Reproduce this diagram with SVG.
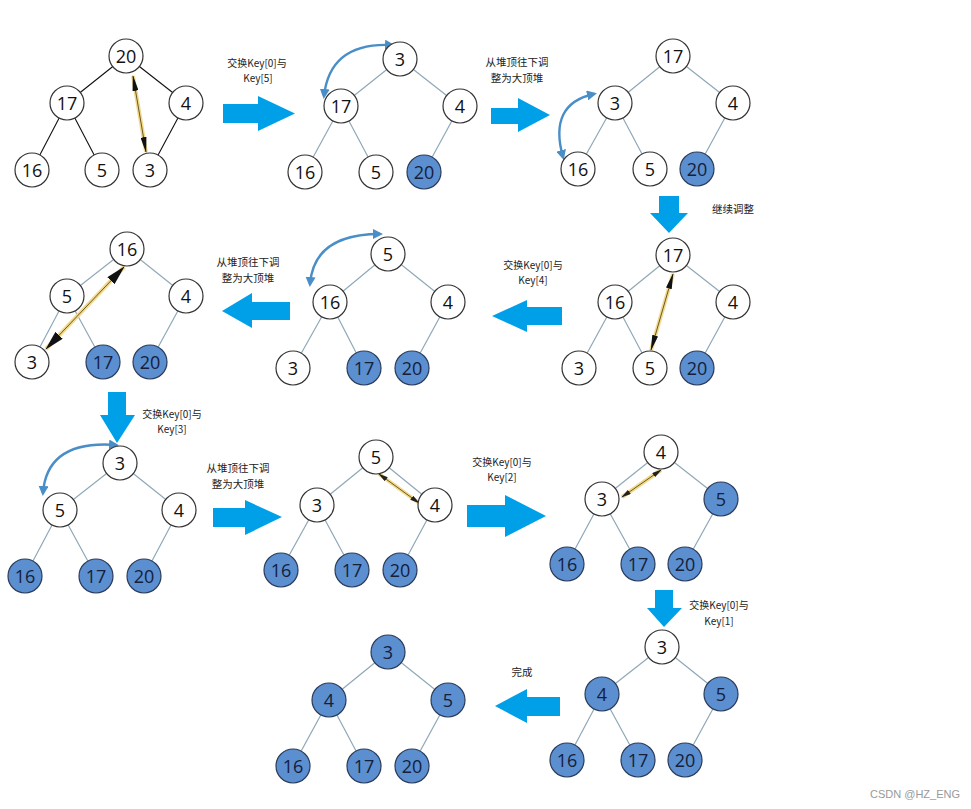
<svg xmlns="http://www.w3.org/2000/svg" width="971" height="809" viewBox="0 0 971 809">
<style>
.w{fill:#fff;stroke:#333;stroke-width:1.2}
.f{fill:#5b8fd0;stroke:#2b3b5a;stroke-width:1.2}
.n{font-family:"Open Sans","Liberation Sans",sans-serif;font-size:18px;text-anchor:middle;fill:#111}
.nf{font-family:"Open Sans","Liberation Sans",sans-serif;font-size:18px;text-anchor:middle;fill:#15203a}
.e{stroke:#8fa8b8;stroke-width:1.2;fill:none}
.eb{stroke:#111;stroke-width:1.1;fill:none}
.ba{fill:#00a0e9}
.lb{font-family:"Noto Sans CJK SC","Liberation Sans",sans-serif;font-size:10.5px;text-anchor:middle;fill:#222}
.ls{font-family:"Noto Sans CJK SC","Liberation Sans",sans-serif;font-size:10px;text-anchor:middle;fill:#222}
.cv{stroke:#4a8ec8;stroke-width:2.4;fill:none;marker-start:url(#ch);marker-end:url(#ch)}
.yg{stroke:#f2d98a;stroke-width:4;fill:none}
.yl{stroke:#6b5a2a;stroke-width:1;fill:none;marker-start:url(#yh);marker-end:url(#yh)}
.yL{stroke:#6b5a2a;stroke-width:1;fill:none;marker-start:url(#yH);marker-end:url(#yH)}
.ys{stroke:#6b5a2a;stroke-width:1;fill:none;marker-start:url(#ys);marker-end:url(#ys)}
</style>
<defs>
<marker id="ch" viewBox="0 0 10 10" refX="7" refY="5" markerWidth="10" markerHeight="10" markerUnits="userSpaceOnUse" orient="auto-start-reverse"><path d="M0,0 L10,5 L0,10 z" fill="#4a8ec8"/></marker>
<marker id="yh" viewBox="0 0 16 6" refX="15" refY="3" markerWidth="16" markerHeight="6" markerUnits="userSpaceOnUse" orient="auto-start-reverse"><path d="M0,0 L16,3 L0,6 z" fill="#111"/></marker>
<marker id="yH" viewBox="0 0 20 10" refX="19" refY="5" markerWidth="20" markerHeight="10" markerUnits="userSpaceOnUse" orient="auto-start-reverse"><path d="M0,0 L20,5 L0,10 z" fill="#111"/></marker>
<marker id="ys" viewBox="0 0 10 5" refX="9" refY="2.5" markerWidth="10" markerHeight="5" markerUnits="userSpaceOnUse" orient="auto-start-reverse"><path d="M0,0 L10,2.5 L0,5 z" fill="#222"/></marker>
</defs>
<rect width="971" height="809" fill="#fff"/>

<g id="connectors">
<path class="eb" d="M126,56 L67,103 M126,56 L186,103 M67,103 L32,170 M67,103 L102,170 M186,103 L150,170"/>
<path class="e" d="M400,59 L341,106 M400,59 L460,106 M341,106 L305,172 M341,106 L376,172 M460,106 L424,172"/>
<path class="e" d="M673,56 L615,103 M673,56 L733,103 M615,103 L578,169 M615,103 L650,169 M733,103 L697,169"/>
<path class="e" d="M673,255 L615,302 M673,255 L733,302 M615,302 L579,368 M615,302 L650,368 M733,302 L697,368"/>
<path class="e" d="M388,254 L330,302 M388,254 L448,302 M330,302 L293,368 M330,302 L364,368 M448,302 L412,368"/>
<path class="e" d="M127,249 L67,296 M127,249 L186,296 M67,296 L32,362 M67,296 L103,362 M186,296 L150,362"/>
<path class="e" d="M120,463 L60,510 M120,463 L179,510 M60,510 L25,576 M60,510 L96,576 M179,510 L144,576"/>
<path class="e" d="M376,457 L317,505 M376,457 L435,505 M317,505 L281,570 M317,505 L352,570 M435,505 L400,570"/>
<path class="e" d="M661,452 L602,499 M661,452 L721,499 M602,499 L567,564 M602,499 L638,564 M721,499 L685,564"/>
<path class="e" d="M662,647 L602,694 M662,647 L721,694 M602,694 L567,760 M602,694 L638,760 M721,694 L685,760"/>
<path class="e" d="M388,652 L329,700 M388,652 L448,700 M329,700 L293,766 M329,700 L364,766 M448,700 L412,766"/>

<line class="yg" x1="133" y1="76" x2="146" y2="152"/>
<line class="yl" x1="133" y1="76" x2="146" y2="152"/>
<line class="yg" x1="673" y1="274" x2="651" y2="350"/>
<line class="yl" x1="673" y1="274" x2="651" y2="350"/>
<line class="yg" x1="124" y1="267" x2="46" y2="349"/>
<line class="yL" x1="124" y1="267" x2="46" y2="349"/>
<line class="yg" x1="379" y1="474" x2="419" y2="503"/>
<line class="ys" x1="379" y1="474" x2="419" y2="503"/>
<line class="yg" x1="622" y1="497" x2="661" y2="470"/>
<line class="ys" x1="622" y1="497" x2="661" y2="470"/>

<path class="cv" d="M324,96 Q330,42 392,45"/>
<path class="cv" d="M563,157 Q548,104 594,94"/>
<path class="cv" d="M310,284 Q314,234 380,234"/>
<path class="cv" d="M43,493 Q47,440 116,445"/>

<polygon class="ba" points="223,104 258,104 258,96 295,113.5 258,131 258,123 223,123"/>
<polygon class="ba" points="491,108 518,108 518,98 550,115 518,132 518,124 491,124"/>
<polygon class="ba" points="659,196 679,196 679,213 688,213 669,233 650,213 659,213"/>
<polygon class="ba" points="562,307 527,307 527,300 492,316 527,332 527,325 562,325"/>
<polygon class="ba" points="290,302 252,302 252,293 222,311 252,328 252,320 290,320"/>
<polygon class="ba" points="108,392 126,392 126,415 135,415 117,443 100,415 108,415"/>
<polygon class="ba" points="213,508 245,508 245,500 282,517 245,535 245,527 213,527"/>
<polygon class="ba" points="467,505 505,505 505,495 546,516 505,537 505,527 467,527"/>
<polygon class="ba" points="655,590 673,590 673,608 682,608 664,627 647,608 655,608"/>
<polygon class="ba" points="560,697 527,697 527,689 495,706 527,723 527,716 560,716"/>
</g>

<g id="t1-20"><circle class="w" cx="126" cy="56" r="17"/><text class="n" x="126" y="62.5">20</text></g>
<g id="t1-17"><circle class="w" cx="67" cy="103" r="17"/><text class="n" x="67" y="109.5">17</text></g>
<g id="t1-4"><circle class="w" cx="186" cy="103" r="17"/><text class="n" x="186" y="109.5">4</text></g>
<g id="t1-16"><circle class="w" cx="32" cy="170" r="17"/><text class="n" x="32" y="176.5">16</text></g>
<g id="t1-5"><circle class="w" cx="102" cy="170" r="17"/><text class="n" x="102" y="176.5">5</text></g>
<g id="t1-3"><circle class="w" cx="150" cy="170" r="17"/><text class="n" x="150" y="176.5">3</text></g>

<g id="t2-3"><circle class="w" cx="400" cy="59" r="17"/><text class="n" x="400" y="65.5">3</text></g>
<g id="t2-17"><circle class="w" cx="341" cy="106" r="17"/><text class="n" x="341" y="112.5">17</text></g>
<g id="t2-4"><circle class="w" cx="460" cy="106" r="17"/><text class="n" x="460" y="112.5">4</text></g>
<g id="t2-16"><circle class="w" cx="305" cy="172" r="17"/><text class="n" x="305" y="178.5">16</text></g>
<g id="t2-5"><circle class="w" cx="376" cy="172" r="17"/><text class="n" x="376" y="178.5">5</text></g>
<g id="t2-20"><circle class="f" cx="424" cy="172" r="17"/><text class="nf" x="424" y="178.5">20</text></g>

<g id="t3-17"><circle class="w" cx="673" cy="56" r="17"/><text class="n" x="673" y="62.5">17</text></g>
<g id="t3-3"><circle class="w" cx="615" cy="103" r="17"/><text class="n" x="615" y="109.5">3</text></g>
<g id="t3-4"><circle class="w" cx="733" cy="103" r="17"/><text class="n" x="733" y="109.5">4</text></g>
<g id="t3-16"><circle class="w" cx="578" cy="169" r="17"/><text class="n" x="578" y="175.5">16</text></g>
<g id="t3-5"><circle class="w" cx="650" cy="169" r="17"/><text class="n" x="650" y="175.5">5</text></g>
<g id="t3-20"><circle class="f" cx="697" cy="169" r="17"/><text class="nf" x="697" y="175.5">20</text></g>

<g id="t4-17"><circle class="w" cx="673" cy="255" r="17"/><text class="n" x="673" y="261.5">17</text></g>
<g id="t4-16"><circle class="w" cx="615" cy="302" r="17"/><text class="n" x="615" y="308.5">16</text></g>
<g id="t4-4"><circle class="w" cx="733" cy="302" r="17"/><text class="n" x="733" y="308.5">4</text></g>
<g id="t4-3"><circle class="w" cx="579" cy="368" r="17"/><text class="n" x="579" y="374.5">3</text></g>
<g id="t4-5"><circle class="w" cx="650" cy="368" r="17"/><text class="n" x="650" y="374.5">5</text></g>
<g id="t4-20"><circle class="f" cx="697" cy="368" r="17"/><text class="nf" x="697" y="374.5">20</text></g>

<g id="t5-5"><circle class="w" cx="388" cy="254" r="17"/><text class="n" x="388" y="260.5">5</text></g>
<g id="t5-16"><circle class="w" cx="330" cy="302" r="17"/><text class="n" x="330" y="308.5">16</text></g>
<g id="t5-4"><circle class="w" cx="448" cy="302" r="17"/><text class="n" x="448" y="308.5">4</text></g>
<g id="t5-3"><circle class="w" cx="293" cy="368" r="17"/><text class="n" x="293" y="374.5">3</text></g>
<g id="t5-17"><circle class="f" cx="364" cy="368" r="17"/><text class="nf" x="364" y="374.5">17</text></g>
<g id="t5-20"><circle class="f" cx="412" cy="368" r="17"/><text class="nf" x="412" y="374.5">20</text></g>

<g id="t6-16"><circle class="w" cx="127" cy="249" r="17"/><text class="n" x="127" y="255.5">16</text></g>
<g id="t6-5"><circle class="w" cx="67" cy="296" r="17"/><text class="n" x="67" y="302.5">5</text></g>
<g id="t6-4"><circle class="w" cx="186" cy="296" r="17"/><text class="n" x="186" y="302.5">4</text></g>
<g id="t6-3"><circle class="w" cx="32" cy="362" r="17"/><text class="n" x="32" y="368.5">3</text></g>
<g id="t6-17"><circle class="f" cx="103" cy="362" r="17"/><text class="nf" x="103" y="368.5">17</text></g>
<g id="t6-20"><circle class="f" cx="150" cy="362" r="17"/><text class="nf" x="150" y="368.5">20</text></g>

<g id="t7-3"><circle class="w" cx="120" cy="463" r="17"/><text class="n" x="120" y="469.5">3</text></g>
<g id="t7-5"><circle class="w" cx="60" cy="510" r="17"/><text class="n" x="60" y="516.5">5</text></g>
<g id="t7-4"><circle class="w" cx="179" cy="510" r="17"/><text class="n" x="179" y="516.5">4</text></g>
<g id="t7-16"><circle class="f" cx="25" cy="576" r="17"/><text class="nf" x="25" y="582.5">16</text></g>
<g id="t7-17"><circle class="f" cx="96" cy="576" r="17"/><text class="nf" x="96" y="582.5">17</text></g>
<g id="t7-20"><circle class="f" cx="144" cy="576" r="17"/><text class="nf" x="144" y="582.5">20</text></g>

<g id="t8-5"><circle class="w" cx="376" cy="457" r="17"/><text class="n" x="376" y="463.5">5</text></g>
<g id="t8-3"><circle class="w" cx="317" cy="505" r="17"/><text class="n" x="317" y="511.5">3</text></g>
<g id="t8-4"><circle class="w" cx="435" cy="505" r="17"/><text class="n" x="435" y="511.5">4</text></g>
<g id="t8-16"><circle class="f" cx="281" cy="570" r="17"/><text class="nf" x="281" y="576.5">16</text></g>
<g id="t8-17"><circle class="f" cx="352" cy="570" r="17"/><text class="nf" x="352" y="576.5">17</text></g>
<g id="t8-20"><circle class="f" cx="400" cy="570" r="17"/><text class="nf" x="400" y="576.5">20</text></g>

<g id="t9-4"><circle class="w" cx="661" cy="452" r="17"/><text class="n" x="661" y="458.5">4</text></g>
<g id="t9-3"><circle class="w" cx="602" cy="499" r="17"/><text class="n" x="602" y="505.5">3</text></g>
<g id="t9-5"><circle class="f" cx="721" cy="499" r="17"/><text class="nf" x="721" y="505.5">5</text></g>
<g id="t9-16"><circle class="f" cx="567" cy="564" r="17"/><text class="nf" x="567" y="570.5">16</text></g>
<g id="t9-17"><circle class="f" cx="638" cy="564" r="17"/><text class="nf" x="638" y="570.5">17</text></g>
<g id="t9-20"><circle class="f" cx="685" cy="564" r="17"/><text class="nf" x="685" y="570.5">20</text></g>

<g id="t10-3"><circle class="w" cx="662" cy="647" r="17"/><text class="n" x="662" y="653.5">3</text></g>
<g id="t10-4"><circle class="f" cx="602" cy="694" r="17"/><text class="nf" x="602" y="700.5">4</text></g>
<g id="t10-5"><circle class="f" cx="721" cy="694" r="17"/><text class="nf" x="721" y="700.5">5</text></g>
<g id="t10-16"><circle class="f" cx="567" cy="760" r="17"/><text class="nf" x="567" y="766.5">16</text></g>
<g id="t10-17"><circle class="f" cx="638" cy="760" r="17"/><text class="nf" x="638" y="766.5">17</text></g>
<g id="t10-20"><circle class="f" cx="685" cy="760" r="17"/><text class="nf" x="685" y="766.5">20</text></g>

<g id="t11-3"><circle class="f" cx="388" cy="652" r="17"/><text class="nf" x="388" y="658.5">3</text></g>
<g id="t11-4"><circle class="f" cx="329" cy="700" r="17"/><text class="nf" x="329" y="706.5">4</text></g>
<g id="t11-5"><circle class="f" cx="448" cy="700" r="17"/><text class="nf" x="448" y="706.5">5</text></g>
<g id="t11-16"><circle class="f" cx="293" cy="766" r="17"/><text class="nf" x="293" y="772.5">16</text></g>
<g id="t11-17"><circle class="f" cx="364" cy="766" r="17"/><text class="nf" x="364" y="772.5">17</text></g>
<g id="t11-20"><circle class="f" cx="412" cy="766" r="17"/><text class="nf" x="412" y="772.5">20</text></g>

<g id="labels">
<text class="ls" x="257" y="67">交换Key[0]与</text>
<text class="ls" x="258" y="82">Key[5]</text>
<text class="lb" x="517" y="66">从堆顶往下调</text>
<text class="lb" x="517" y="82">整为大顶堆</text>
<text class="lb" x="733" y="213">继续调整</text>
<text class="ls" x="533" y="269">交换Key[0]与</text>
<text class="ls" x="533" y="284">Key[4]</text>
<text class="lb" x="248" y="266">从堆顶往下调</text>
<text class="lb" x="248" y="282">整为大顶堆</text>
<text class="ls" x="172" y="418">交换Key[0]与</text>
<text class="ls" x="172" y="433">Key[3]</text>
<text class="lb" x="238" y="472">从堆顶往下调</text>
<text class="lb" x="238" y="488">整为大顶堆</text>
<text class="ls" x="502" y="466">交换Key[0]与</text>
<text class="ls" x="502" y="481">Key[2]</text>
<text class="ls" x="719" y="609">交换Key[0]与</text>
<text class="ls" x="719" y="625">Key[1]</text>
<text class="lb" x="522" y="676">完成</text>
<text x="870" y="798" font-family="Liberation Sans,sans-serif" font-size="11" fill="#999">CSDN @HZ_ENG</text>
</g>
</svg>
